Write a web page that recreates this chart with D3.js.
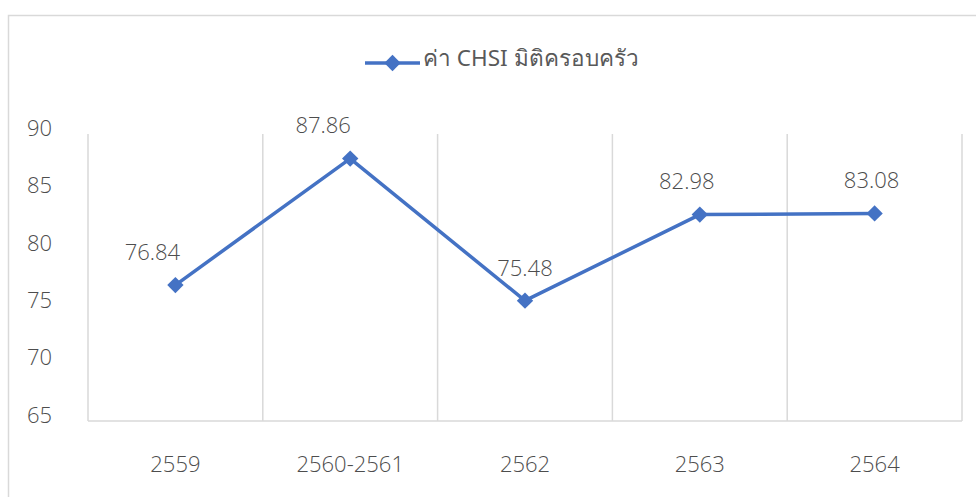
<!DOCTYPE html>
<html>
<head>
<meta charset="utf-8">
<script src="https://cdn.jsdelivr.net/npm/d3@7"></script>
<style>
  body { margin: 0; background: #fff; }
  text { font-family: "Open Sans", "Noto Sans", sans-serif; font-weight: 300; fill: #4d4d4d; }
  text.legend { font-family: "Noto Sans", "Open Sans", sans-serif; font-weight: 400; fill: #595959; }
</style>
</head>
<body>
<div class="box"></div>
<script>
// DATA
const years = ['2559', '2560-2561', '2562', '2563', '2564'];
const chsi = [76.84, 87.86, 75.48, 82.98, 83.08];
const yTicks = [65, 70, 75, 80, 85, 90];
const seriesName = 'ค่า CHSI มิติครอบครัว';

// label nudges, the labels in the picture are not all centred on the point
const labelShift = [-23, -27, 0, -13, -3];

const width = 976, height = 497;
const blue = '#4472C4', grid = '#d9d9d9';

const svg = d3.select('.box').append('svg')
              .attr('width', width)
              .attr('height', height);

// chart border (cut off at right and bottom)
svg.append('rect')
   .attr('x', 8.5).attr('y', 15.5)
   .attr('width', 1000).attr('height', 600)
   .attr('fill', 'none')
   .attr('stroke', grid)
   .attr('stroke-width', 1.5);

const x = d3.scaleBand().domain(years).range([88, 962]).padding(0);
const y = d3.scaleLinear().domain([65, 90]).range([421, 134]);

// vertical gridlines on category edges
const edges = years.map(d => x(d)).concat([x.range()[1]]);
svg.append('g').selectAll('line')
   .data(edges)
   .join('line')
   .attr('x1', d => d).attr('x2', d => d)
   .attr('y1', y(90)).attr('y2', y(65))
   .attr('stroke', grid)
   .attr('stroke-width', 1.5);

// horizontal axis line
svg.append('line')
   .attr('x1', 88).attr('x2', 962)
   .attr('y1', y(65)).attr('y2', y(65))
   .attr('stroke', grid)
   .attr('stroke-width', 1.5);

// y labels
svg.append('g').selectAll('text')
   .data(yTicks)
   .join('text')
   .attr('x', 52)
   .attr('y', d => y(d) - 4)
   .attr('text-anchor', 'end')
   .attr('dominant-baseline', 'middle')
   .attr('font-size', 22)
   .text(d => d);

// x labels
svg.append('g').selectAll('text')
   .data(years)
   .join('text')
   .attr('x', d => x(d) + x.bandwidth() / 2)
   .attr('y', 466)
   .attr('text-anchor', 'middle')
   .attr('dominant-baseline', 'middle')
   .attr('font-size', 22)
   .text(d => d);

// line
const line = d3.line()
  .x((d, i) => x(years[i]) + x.bandwidth() / 2)
  .y(d => y(d));

svg.append('path')
   .datum(chsi)
   .attr('d', line)
   .attr('fill', 'none')
   .attr('stroke', blue)
   .attr('stroke-width', 3.5)
   .attr('stroke-linejoin', 'round');

const diamond = d3.symbol().type(d3.symbolDiamond2).size(170);

svg.append('g').selectAll('path')
   .data(chsi)
   .join('path')
   .attr('transform', (d, i) => `translate(${x(years[i]) + x.bandwidth() / 2},${y(d)})`)
   .attr('d', diamond)
   .attr('fill', blue);

// data labels
svg.append('g').selectAll('text')
   .data(chsi)
   .join('text')
   .attr('x', (d, i) => x(years[i]) + x.bandwidth() / 2 + labelShift[i])
   .attr('y', d => y(d) - 31)
   .attr('text-anchor', 'middle')
   .attr('dominant-baseline', 'middle')
   .attr('font-size', 22)
   .text(d => d.toFixed(2));

// legend
const legend = svg.append('g').attr('transform', 'translate(365,63)');
legend.append('line')
   .attr('x1', 0).attr('x2', 55)
   .attr('stroke', blue)
   .attr('stroke-width', 3.5);
legend.append('path')
   .attr('transform', 'translate(27.5,0)')
   .attr('d', diamond)
   .attr('fill', blue);
legend.append('text')
   .attr('class', 'legend')
   .attr('x', 58)
   .attr('y', -3)
   .attr('dominant-baseline', 'middle')
   .attr('font-size', 22.5)
   .text(seriesName);
</script>
</body>
</html>
